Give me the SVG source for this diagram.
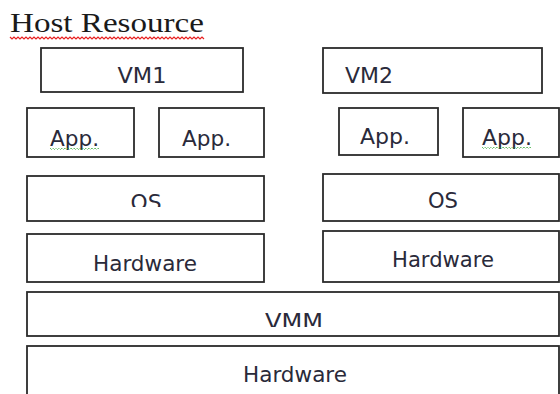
<svg xmlns="http://www.w3.org/2000/svg" width="560" height="394" viewBox="0 0 560 394">
<style>
.box{fill:#fff;stroke:#2b2b2b;stroke-width:1.8}
.lbl{font-family:"DejaVu Sans",Verdana,sans-serif;font-size:21px;fill:#2a2a3a}
.title{font-family:"Liberation Serif","Times New Roman",serif;font-size:28px;fill:#1a1a1a}
.wavy{fill:none;stroke:#e82020;stroke-width:1.2}
.dots{fill:none;stroke:#22a022;stroke-width:1;stroke-dasharray:1 1}
</style>
<defs>
<clipPath id="clipOS1"><rect x="0" y="0" width="560" height="207"/></clipPath>
<clipPath id="clipVMM"><rect x="0" y="0" width="560" height="327"/></clipPath>
</defs>
<rect width="560" height="394" fill="#fff"/>
<g id="title">
<text class="title" x="10" y="32" textLength="194" lengthAdjust="spacingAndGlyphs">Host  Resource</text>
<path class="wavy" d="M10 37 l2 2 l2 -2 l2 2 l2 -2 l2 2 l2 -2 l2 2 l2 -2 l2 2 l2 -2 l2 2 l2 -2 l2 2 l2 -2 l2 2 l2 -2 l2 2 l2 -2 l2 2 l2 -2 l2 2 l2 -2 l2 2 l2 -2 l2 2 l2 -2 l2 2 l2 -2 l2 2 l2 -2 l2 2 l2 -2 l2 2 l2 -2 l2 2 l2 -2 l2 2 l2 -2 l2 2 l2 -2 l2 2 l2 -2 l2 2 l2 -2 l2 2 l2 -2 l2 2 l2 -2 l2 2 l2 -2 l2 2 l2 -2 l2 2 l2 -2 l2 2 l2 -2 l2 2 l2 -2 l2 2 l2 -2 l2 2 l2 -2 l2 2 l2 -2 l2 2 l2 -2 l2 2 l2 -2 l2 2 l2 -2 l2 2 l2 -2 l2 2 l2 -2 l2 2 l2 -2 l2 2 l2 -2 l2 2 l2 -2 l2 2 l2 -2 l2 2 l2 -2 l2 2 l2 -2 l2 2 l2 -2 l2 2 l2 -2 l2 2 l2 -2 l2 2 l2 -2 l2 2 l2 -2 l2 2"/>
</g>
<g id="vm1"><rect class="box" x="41" y="48" width="202" height="44"/><text class="lbl" x="142" y="83" text-anchor="middle" textLength="49" lengthAdjust="spacingAndGlyphs">VM1</text></g>
<g id="vm2"><rect class="box" x="323" y="48" width="219" height="45"/><text class="lbl" x="345" y="83" textLength="48" lengthAdjust="spacingAndGlyphs">VM2</text></g>
<g id="app1"><rect class="box" x="27" y="108" width="107" height="49"/><text class="lbl" x="50" y="146" textLength="49" lengthAdjust="spacingAndGlyphs">App.</text><path class="dots" d="M50 148 l1.5 1.5 l1.5 -1.5 l1.5 1.5 l1.5 -1.5 l1.5 1.5 l1.5 -1.5 l1.5 1.5 l1.5 -1.5 l1.5 1.5 l1.5 -1.5 l1.5 1.5 l1.5 -1.5 l1.5 1.5 l1.5 -1.5 l1.5 1.5 l1.5 -1.5 l1.5 1.5 l1.5 -1.5 l1.5 1.5 l1.5 -1.5 l1.5 1.5 l1.5 -1.5 l1.5 1.5 l1.5 -1.5 l1.5 1.5 l1.5 -1.5 l1.5 1.5 l1.5 -1.5 l1.5 1.5 l1.5 -1.5 l1.5 1.5 l1.5 -1.5 l1.5 1.5"/></g>
<g id="app2"><rect class="box" x="159" y="108" width="105" height="49"/><text class="lbl" x="182" y="146" textLength="49" lengthAdjust="spacingAndGlyphs">App.</text></g>
<g id="app3"><rect class="box" x="339" y="108" width="99" height="47"/><text class="lbl" x="360" y="144" textLength="50" lengthAdjust="spacingAndGlyphs">App.</text></g>
<g id="app4"><rect class="box" x="463" y="108" width="96" height="49"/><text class="lbl" x="482" y="145" textLength="50" lengthAdjust="spacingAndGlyphs">App.</text><path class="dots" d="M482 147 l1.5 1.5 l1.5 -1.5 l1.5 1.5 l1.5 -1.5 l1.5 1.5 l1.5 -1.5 l1.5 1.5 l1.5 -1.5 l1.5 1.5 l1.5 -1.5 l1.5 1.5 l1.5 -1.5 l1.5 1.5 l1.5 -1.5 l1.5 1.5 l1.5 -1.5 l1.5 1.5 l1.5 -1.5 l1.5 1.5 l1.5 -1.5 l1.5 1.5 l1.5 -1.5 l1.5 1.5 l1.5 -1.5 l1.5 1.5 l1.5 -1.5 l1.5 1.5 l1.5 -1.5 l1.5 1.5 l1.5 -1.5 l1.5 1.5 l1.5 -1.5 l1.5 1.5"/></g>
<g id="os1"><rect class="box" x="27" y="176" width="237" height="45"/><text class="lbl" x="146" y="210" text-anchor="middle" textLength="31" lengthAdjust="spacingAndGlyphs" clip-path="url(#clipOS1)">OS</text></g>
<g id="os2"><rect class="box" x="323" y="174" width="236" height="47"/><text class="lbl" x="443" y="208" text-anchor="middle" textLength="30" lengthAdjust="spacingAndGlyphs">OS</text></g>
<g id="hw1"><rect class="box" x="27" y="234" width="237" height="48"/><text class="lbl" x="93" y="271" textLength="104" lengthAdjust="spacingAndGlyphs">Hardware</text></g>
<g id="hw2"><rect class="box" x="323" y="231" width="236" height="51"/><text class="lbl" x="392" y="267" textLength="102" lengthAdjust="spacingAndGlyphs">Hardware</text></g>
<g id="vmm"><rect class="box" x="27" y="292" width="532" height="44"/><text class="lbl" x="265" y="329" textLength="58" lengthAdjust="spacingAndGlyphs" clip-path="url(#clipVMM)">VMM</text></g>
<g id="hw3"><rect class="box" x="27" y="346" width="532" height="60"/><text class="lbl" x="243" y="382" textLength="104" lengthAdjust="spacingAndGlyphs">Hardware</text></g>
<g id="connectors"></g>
</svg>
